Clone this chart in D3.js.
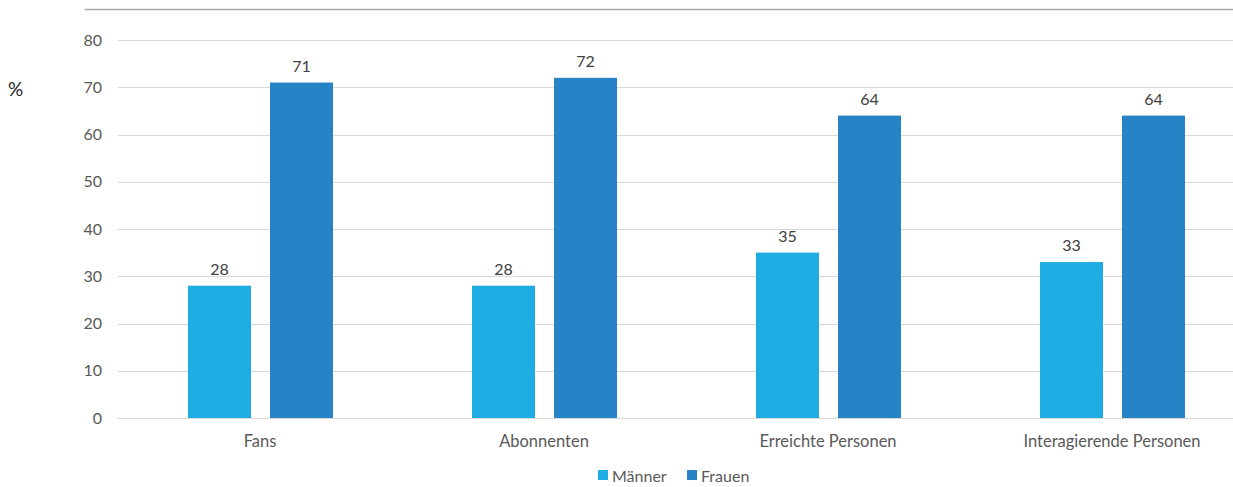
<!DOCTYPE html>
<html>
<head>
<meta charset="utf-8">
<script src="https://cdn.jsdelivr.net/npm/d3@7"></script>
<style>
  html, body { margin: 0; padding: 0; background: #fff; }
  svg { display: block; font-family: Lato, "Open Sans", sans-serif; }
</style>
</head>
<body>
<svg id="chart" width="1233" height="487"></svg>
<script>
const categories = ["Fans", "Abonnenten", "Erreichte Personen", "Interagierende Personen"];
const seriesNames = ["Männer", "Frauen"];
const maenner = [28, 28, 35, 33];
const frauen = [71, 72, 64, 64];
const yTicks = [0, 10, 20, 30, 40, 50, 60, 70, 80];
const colors = ["#1eade3", "#2683c6"];

const svg = d3.select("#chart");
const plotLeft = 118, plotRight = 1254, plotTop = 40, plotBottom = 418;

const x = d3.scaleBand().domain(categories).range([plotLeft, plotRight]).paddingInner(0).paddingOuter(0);
const y = d3.scaleLinear().domain([0, 80]).range([plotBottom, plotTop]);
// bar pair inside each category band
const x1 = d3.scaleBand().domain(seriesNames).range([70, 215]).paddingInner(0.232).paddingOuter(0);

// top rule
svg.append("line").attr("x1", 85).attr("x2", 1233).attr("y1", 9.5).attr("y2", 9.5)
  .attr("stroke", "#a6a6a6").attr("stroke-width", 1.5);

// gridlines
svg.append("g").selectAll("line").data(yTicks).join("line")
  .attr("x1", plotLeft).attr("x2", 1233)
  .attr("y1", d => Math.round(y(d)) + 0.5).attr("y2", d => Math.round(y(d)) + 0.5)
  .attr("stroke", "#d9d9d9").attr("stroke-width", 1);

// y axis labels
svg.append("g").selectAll("text").data(yTicks).join("text")
  .attr("x", 102).attr("y", d => y(d)).attr("dy", "0.35em")
  .attr("text-anchor", "end").attr("font-size", 16).attr("fill", "#595959")
  .text(d => d);

svg.append("text").attr("x", 8).attr("y", 89).attr("dy", "0.35em")
  .attr("font-size", 19).attr("fill", "#222").text("%");

// bars
const data = categories.map((c, i) => ({ cat: c, vals: [maenner[i], frauen[i]] }));
const groups = svg.append("g").selectAll("g").data(data).join("g")
  .attr("transform", d => `translate(${x(d.cat)},0)`);

groups.selectAll("rect").data(d => d.vals.map((v, j) => ({ name: seriesNames[j], v, j }))).join("rect")
  .attr("x", d => x1(d.name)).attr("width", x1.bandwidth())
  .attr("y", d => y(d.v)).attr("height", d => y(0) - y(d.v))
  .attr("fill", d => colors[d.j]);

groups.selectAll("text").data(d => d.vals.map((v, j) => ({ name: seriesNames[j], v, j }))).join("text")
  .attr("x", d => x1(d.name) + x1.bandwidth() / 2).attr("y", d => y(d.v) - 11)
  .attr("text-anchor", "middle").attr("font-size", 16).attr("fill", "#404040")
  .text(d => d.v);

// category labels
svg.append("g").selectAll("text").data(categories).join("text")
  .attr("x", d => x(d) + x.bandwidth() / 2).attr("y", 441).attr("dy", "0.35em")
  .attr("text-anchor", "middle").attr("font-size", 16.5).attr("fill", "#595959")
  .text(d => d);

// legend
const legend = svg.append("g");
const legendX = [598, 687];
seriesNames.forEach((n, j) => {
  legend.append("rect").attr("x", legendX[j]).attr("y", 470).attr("width", 10).attr("height", 10).attr("fill", colors[j]);
  legend.append("text").attr("x", legendX[j] + 14).attr("y", 476).attr("dy", "0.35em")
    .attr("font-size", 16).attr("fill", "#595959").text(n);
});
</script>
</body>
</html>
